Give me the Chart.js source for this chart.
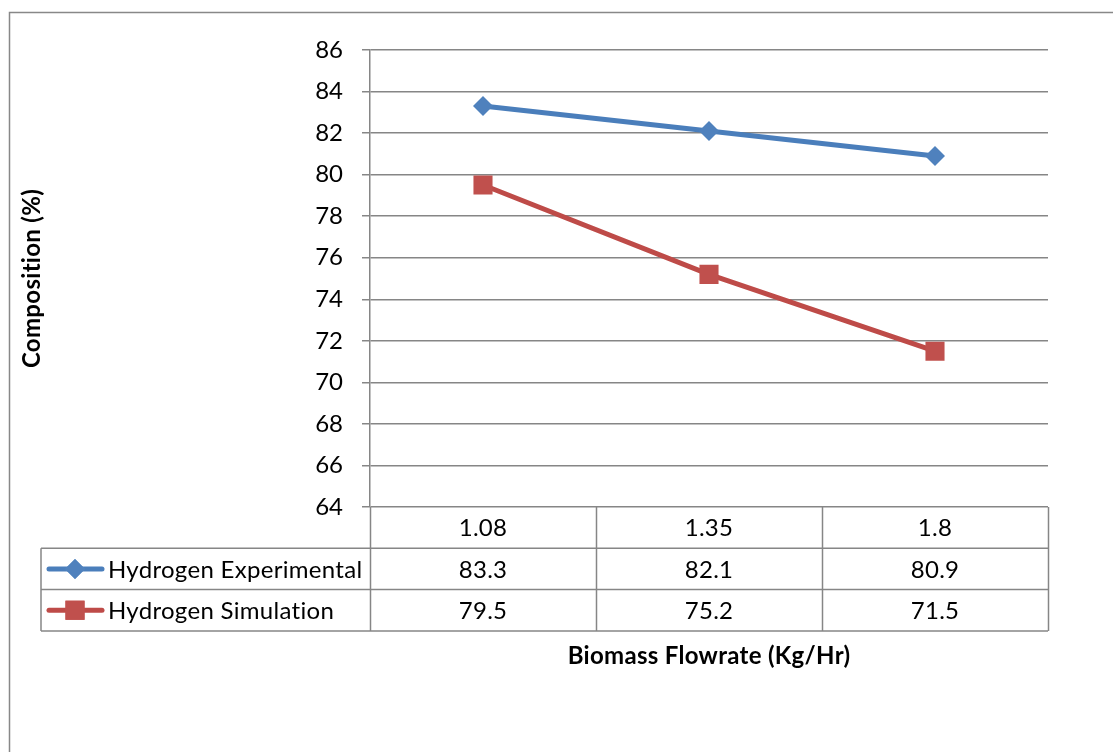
<!DOCTYPE html>
<html><head><meta charset="utf-8">
<script src="https://cdn.jsdelivr.net/npm/chart.js@4/dist/chart.umd.min.js"></script>
<style>html,body{margin:0;padding:0;background:#fff}</style>
</head><body>
<canvas id="c" width="1113" height="752"></canvas>
<script>
const categories = ['1.08', '1.35', '1.8'];
const experimental = [83.3, 82.1, 80.9];
const simulation = [79.5, 75.2, 71.5];
const seriesNames = ['Hydrogen Experimental', 'Hydrogen Simulation'];
const yMin = 64, yMax = 86, yStep = 2;
const xTitle = 'Biomass Flowrate (Kg/Hr)';
const yTitle = 'Composition (%)';

const FONT = 'Lato';
const FS = 24;
const GRID = '#868686';
const BLUE = '#4A7EBB', BLUE_M = '#4F81BD';
const RED = '#BE4B48', RED_M = '#C0504D';

const tablePlugin = {
  id: 'excelTable',
  afterDraw(chart) {
    const ctx = chart.ctx;
    const ca = chart.chartArea;
    const xs = chart.scales.x;
    const rowH = 41.3;
    const top = ca.bottom;
    const r1 = top + rowH, r2 = top + 2 * rowH, r3 = top + 3 * rowH;
    const tblLeft = 41;
    ctx.save();
    ctx.strokeStyle = '#888888';
    ctx.lineWidth = 1.5;
    ctx.strokeRect(9.5, 12.5, 1200, 1000);
    ctx.strokeStyle = GRID;
    ctx.lineWidth = 1.5;
    ctx.beginPath();
    const n = categories.length;
    const cw = (ca.right - ca.left) / n;
    for (let i = 0; i <= n; i++) {
      const x = Math.round(ca.left + i * cw) + 0.5;
      ctx.moveTo(x, top); ctx.lineTo(x, r3);
    }
    ctx.moveTo(tblLeft, r1); ctx.lineTo(ca.right, r1);
    ctx.moveTo(tblLeft, r2); ctx.lineTo(ca.right, r2);
    ctx.moveTo(tblLeft, r3); ctx.lineTo(ca.right, r3);
    ctx.moveTo(tblLeft, r1); ctx.lineTo(tblLeft, r3);
    ctx.stroke();
    if ('letterSpacing' in ctx) ctx.letterSpacing = '0.3px';
    ctx.fillStyle = '#000';
    ctx.font = FS + 'px ' + FONT;
    ctx.textAlign = 'center';
    ctx.textBaseline = 'middle';
    const rows = [categories, experimental, simulation];
    const rowC = [(top + r1) / 2, (r1 + r2) / 2, (r2 + r3) / 2];
    rows.forEach((arr, ri) => {
      arr.forEach((v, i) => {
        const x = xs.getPixelForValue(i);
        ctx.fillText(String(v), x, rowC[ri] + 1);
      });
    });
    const keys = [
      {c: BLUE, m: BLUE_M, style: 'rectRot', r: 10},
      {c: RED, m: RED_M, style: 'rect', r: 13.5}
    ];
    keys.forEach((k, i) => {
      const y = rowC[i + 1];
      ctx.strokeStyle = k.c; ctx.lineWidth = 5; ctx.lineCap = 'round';
      ctx.beginPath(); ctx.moveTo(49, y); ctx.lineTo(102, y); ctx.stroke();
      ctx.fillStyle = k.m;
      Chart.helpers.drawPoint(ctx, {pointStyle: k.style, radius: k.r, rotation: 0, borderWidth: 0}, 75, y);
      ctx.fill();
      ctx.fillStyle = '#000';
      ctx.textAlign = 'left';
      ctx.fillText(seriesNames[i], 108, y + 1);
    });
    ctx.font = 'bold ' + FS + 'px ' + FONT;
    ctx.textAlign = 'center';
    ctx.fillText(xTitle, (ca.left + ca.right) / 2, 656);
    ctx.translate(32, (ca.top + ca.bottom) / 2);
    ctx.rotate(-Math.PI / 2);
    ctx.fillText(yTitle, 0, 0);
    ctx.restore();
  }
};

new Chart(document.getElementById('c'), {
  type: 'line',
  data: {
    labels: categories,
    datasets: [
      {label: seriesNames[0], data: experimental, borderColor: BLUE, backgroundColor: BLUE_M,
       borderWidth: 5, pointStyle: 'rectRot', pointRadius: 10, pointBorderWidth: 0,
       pointBackgroundColor: BLUE_M, tension: 0},
      {label: seriesNames[1], data: simulation, borderColor: RED, backgroundColor: RED_M,
       borderWidth: 5, pointStyle: 'rect', pointRadius: 13.5, pointBorderWidth: 0,
       pointBackgroundColor: RED_M, tension: 0}
    ]
  },
  options: {
    responsive: false,
    animation: false,
    devicePixelRatio: 1,
    layout: {padding: {left: 0, right: 65, top: 50, bottom: 245}},
    plugins: {legend: {display: false}, tooltip: {enabled: false}},
    scales: {
      x: {type: 'category', offset: true, display: false},
      y: {
        min: yMin, max: yMax,
        afterFit(scale) { scale.width = 370; },
        ticks: {stepSize: yStep, color: '#000', padding: 19, font: {family: FONT, size: FS}},
        grid: {color: GRID, lineWidth: 1.5, tickLength: 8, drawTicks: true},
        border: {color: GRID, width: 1.5}
      }
    }
  },
  plugins: [tablePlugin]
});
</script>
</body></html>
